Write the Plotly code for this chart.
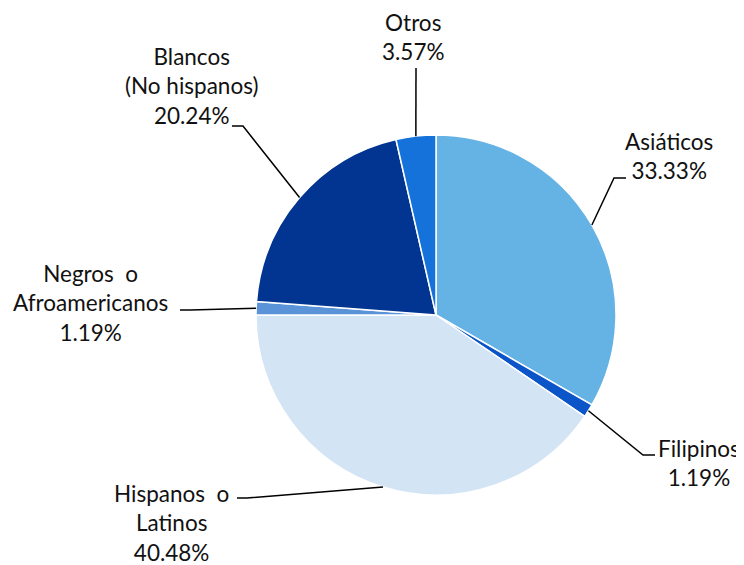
import math
import plotly.graph_objects as go

# ---- data ----
categories = ["Asiáticos", "Filipinos", "Hispanos  o<br>Latinos", "Negros  o<br>Afroamericanos",
              "Blancos<br>(No hispanos)", "Otros"]
values = [33.33, 1.19, 40.48, 1.19, 20.24, 3.57]
colors = ["#65B2E5", "#0B55C9", "#D3E4F5", "#5A93D8", "#013591", "#1572DA"]

# ---- layout constants (pixels, in window coordinates) ----
OFF = 8  # page body margin
W, H = 744 - OFF, 565 - OFF
CX, CY, R = 436, 315, 180
FONT = dict(family="Lato, Open Sans, sans-serif", size=22.5, color="#111111")

# label block centres and leader elbows/ends (pixels)
label_pos = [(669, 156), (699, 463), (171, 523), (90, 303), (191, 86), (414, 37)]
leader_pts = [
    [(614, 178), (626, 178)],
    [(643, 455), (655, 455)],
    [(247, 498), (237, 498)],
    [(190, 310), (180, 310)],
    [(243, 126), (232, 126)],
    [(416, 68), (416, 68)],
]


def px(x):
    return (x - OFF) / W


def py(y):
    return 1 - (y - OFF) / H


fig = go.Figure(go.Pie(
    labels=[c.replace("<br>", " ") for c in categories],
    values=values,
    sort=False,
    direction="clockwise",
    rotation=0,
    marker=dict(colors=colors, line=dict(color="white", width=1.5)),
    textinfo="none",
    hoverinfo="label+percent",
    showlegend=False,
    domain=dict(x=[px(CX - R), px(CX + R)], y=[py(CY + R), py(CY - R)]),
))

total = sum(values)
cum = 0.0
shapes = []
annotations = []
for cat, v, (lx, ly), pts in zip(categories, values, label_pos, leader_pts):
    mid = (cum + v / 2) / total * 2 * math.pi
    cum += v
    sx = CX + R * math.sin(mid)
    sy = CY - R * math.cos(mid)
    path_pts = [(sx, sy)] + pts
    path = "M " + " L ".join(f"{px(x)},{py(y)}" for x, y in path_pts)
    shapes.append(dict(type="path", path=path, xref="paper", yref="paper",
                       line=dict(color="black", width=1.5)))
    annotations.append(dict(
        text=f"{cat}<br>{v:.2f}%", x=px(lx), y=py(ly), xref="paper", yref="paper",
        showarrow=False, xanchor="center", yanchor="middle", align="center", font=FONT,
        borderpad=0,
    ))

fig.update_layout(
    width=W, height=H,
    margin=dict(l=0, r=0, t=0, b=0),
    paper_bgcolor="white", plot_bgcolor="white",
    shapes=shapes, annotations=annotations,
)

fig.write_html("out.html")
